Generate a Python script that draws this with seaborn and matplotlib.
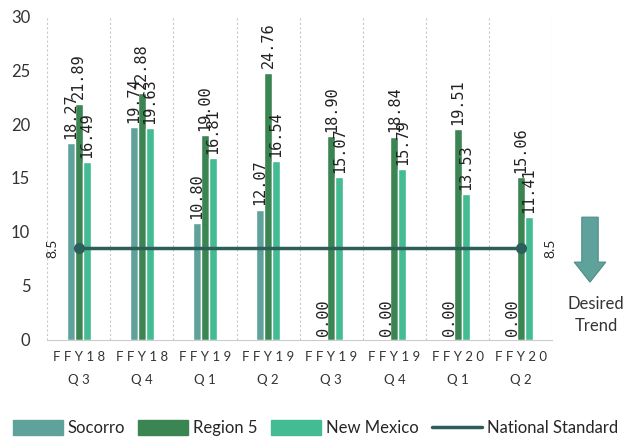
import matplotlib
matplotlib.use("Agg")
import matplotlib.pyplot as plt
from matplotlib.patches import FancyArrow, Patch
from matplotlib.lines import Line2D
import pandas as pd
import seaborn as sns

quarters = ["F F Y 1 8\nQ 3", "F F Y 1 8\nQ 4", "F F Y 1 9\nQ 1", "F F Y 1 9\nQ 2",
            "F F Y 1 9\nQ 3", "F F Y 1 9\nQ 4", "F F Y 2 0\nQ 1", "F F Y 2 0\nQ 2"]
socorro = [18.27, 19.74, 10.80, 12.07, 0.00, 0.00, 0.00, 0.00]
region5 = [21.89, 22.88, 19.00, 24.76, 18.90, 18.84, 19.51, 15.06]
new_mexico = [16.49, 19.63, 16.81, 16.54, 15.07, 15.79, 13.53, 11.41]
national = [8.5] * 8

series = ["Socorro", "Region 5", "New Mexico"]
colors = ["#5fa29b", "#3b8552", "#43bb93"]
line_color = "#2e5e5a"

df = pd.DataFrame({
    "quarter": quarters * 3,
    "value": socorro + region5 + new_mexico,
    "series": [s for s in series for _ in quarters],
})

sns.set_style("white")
plt.rcParams["font.family"] = ["Lato", "DejaVu Sans"]

fig = plt.figure(figsize=(6.31, 4.45), dpi=100)
ax = fig.add_axes([0.0745, 0.236, 0.801, 0.728])

sns.barplot(data=df, x="quarter", y="value", hue="series", palette=colors,
            width=0.38, gap=0, saturation=1, ax=ax, legend=False)

# value labels above every bar
for cont in ax.containers:
    ax.bar_label(cont, fmt="%.2f", rotation=90, padding=3, fontsize=11,
                 family="DejaVu Sans Mono", color="#222222")

xs = list(range(len(quarters)))
ax.plot(xs, national, color=line_color, lw=2.5, marker="o", markersize=7,
        markevery=[0, len(xs) - 1], label="National Standard", zorder=4)
ax.text(xs[0] - 0.42, national[0], "8.5", rotation=90, ha="center", va="center",
        fontsize=10)
ax.text(xs[-1] + 0.46, national[-1], "8.5", rotation=90, ha="center", va="center",
        fontsize=10)

ax.set_xlim(-0.5, 7.5)
ax.set_ylim(0, 30)
ax.set_yticks([0, 5, 10, 15, 20, 25, 30])
ax.set_xlabel("")
ax.set_ylabel("")
ax.tick_params(axis="y", labelsize=12, length=0, pad=12, colors="#333333")
ax.tick_params(axis="x", labelsize=9.5, length=0, pad=8, colors="#333333")
for lab in ax.get_xticklabels():
    lab.set_linespacing(2.1)

for b in [i + 0.5 for i in range(-1, len(quarters))]:
    ax.axvline(b, color="#c8c8c8", lw=0.8, ls=(0, (2, 2)), zorder=0)
for s in ["top", "right", "left"]:
    ax.spines[s].set_visible(False)
ax.spines["bottom"].set_color("#cccccc")

# desired trend arrow
arrow = FancyArrow(0.935, 0.512, 0, -0.146, width=0.026, head_width=0.05,
                   head_length=0.045, length_includes_head=True,
                   transform=fig.transFigure, facecolor="#5fa29b",
                   edgecolor="#4f8c86", lw=0.8)
fig.patches.append(arrow)
fig.text(0.945, 0.292, "Desired\nTrend", ha="center", va="center", fontsize=12,
         linespacing=1.5, color="#333333")

handles = [Patch(color=c) for c in colors] + [Line2D([0], [0], color=line_color, lw=2.5)]
fig.legend(handles, series + ["National Standard"], loc="center", ncol=4,
           bbox_to_anchor=(0.5, 0.038), frameon=False, fontsize=12,
           handlelength=3.0, handleheight=1.0, handletextpad=0.3, columnspacing=0.8)

fig.savefig("out.png", dpi=100)
